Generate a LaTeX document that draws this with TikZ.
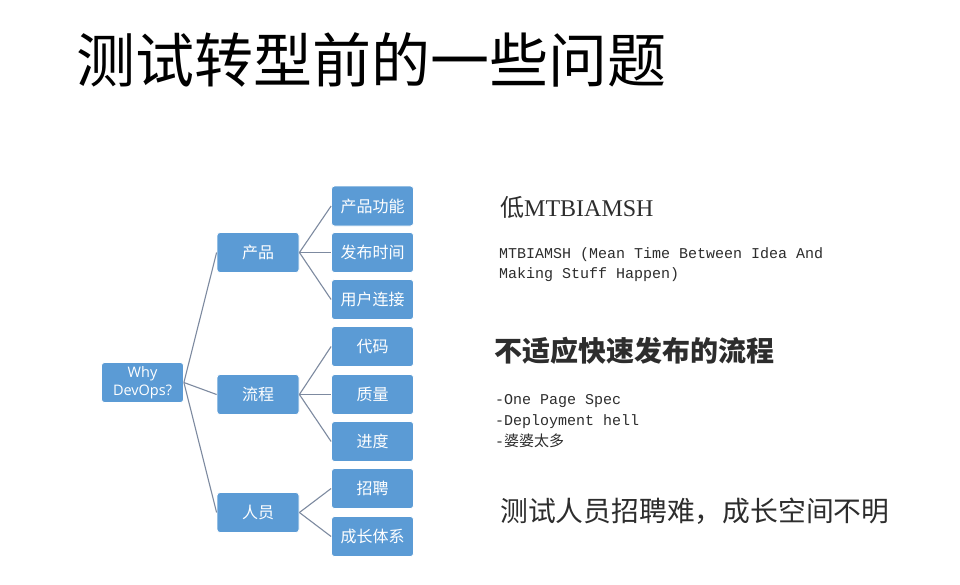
\documentclass[tikz,border=0pt]{standalone}
\usepackage{fontspec}
\setmainfont{Liberation Serif}
\setmonofont{Liberation Mono}
\newfontfamily\cjk{Noto Sans CJK SC}
\newfontfamily\opensans{Open Sans}
\definecolor{boxblue}{RGB}{91,155,213}
\definecolor{linecol}{RGB}{125,138,160}
\definecolor{txt}{RGB}{45,45,45}
\tikzset{
  box/.style={draw=white, line width=0.8pt, fill=boxblue, rounded corners=3pt,
    minimum width=82pt, minimum height=40pt, inner sep=1pt, text=white,
    font=\cjk\fontsize{16}{18}\selectfont, align=center},
  link/.style={draw=linecol, line width=1.1pt},
  rtext/.style={anchor=west, inner sep=0pt, text=txt, align=left}
}
\begin{document}
\begin{tikzpicture}[x=1pt,y=-1pt]
\useasboundingbox (0,0) rectangle (960,584);
\fill[white] (0,0) rectangle (960,584);
% title
\node[anchor=west, inner sep=0pt, font=\cjk\fontsize{59}{62}\selectfont, text=black] (title) at (76,60) {测试转型前的一些问题};
% tree nodes
\node[box, font=\opensans\fontsize{14.5}{18}\selectfont] (root) at (142.5,382.5) {Why\\DevOps?};
\node[box] (p1) at (258,252.5) {产品};
\node[box] (p2) at (258,394.5) {流程};
\node[box] (p3) at (258,512.5) {人员};
\node[box] (c1) at (372.5,206) {产品功能};
\node[box] (c2) at (372.5,252.5) {发布时间};
\node[box] (c3) at (372.5,299.5) {用户连接};
\node[box] (c4) at (372.5,346.5) {代码};
\node[box] (c5) at (372.5,394.5) {质量};
\node[box] (c6) at (372.5,441.5) {进度};
\node[box] (c7) at (372.5,488.5) {招聘};
\node[box] (c8) at (372.5,536.5) {成长体系};
\foreach \p in {p1,p2,p3} \draw[link] (root.east) -- (\p.west);
\foreach \c in {c1,c2,c3} \draw[link] (p1.east) -- (\c.west);
\foreach \c in {c4,c5,c6} \draw[link] (p2.east) -- (\c.west);
\foreach \c in {c7,c8} \draw[link] (p3.east) -- (\c.west);
% right texts
\node[rtext, font=\fontsize{26}{28}\selectfont] (t1) at (500,207) {{\cjk\fontsize{24}{28}\selectfont 低}\fontsize{24}{28}\selectfont MTBIAMSH};
\node[rtext, font=\ttfamily\fontsize{15}{20}\selectfont] (t2) at (499,265) {MTBIAMSH (Mean Time Between Idea And\\Making Stuff Happen)};
\node[rtext, font=\cjk\bfseries\fontsize{28}{30}\selectfont] (t3) at (494,351) {不适应快速发布的流程};
\node[rtext, font=\ttfamily\fontsize{15}{21}\selectfont] (t4) at (495,421) {-One Page Spec\\-Deployment hell\\-{\cjk 婆婆太多}};
\node[rtext, font=\cjk\fontsize{27.8}{30}\selectfont] (t5) at (500,511) {测试人员招聘难，成长空间不明};
\end{tikzpicture}
\end{document}
